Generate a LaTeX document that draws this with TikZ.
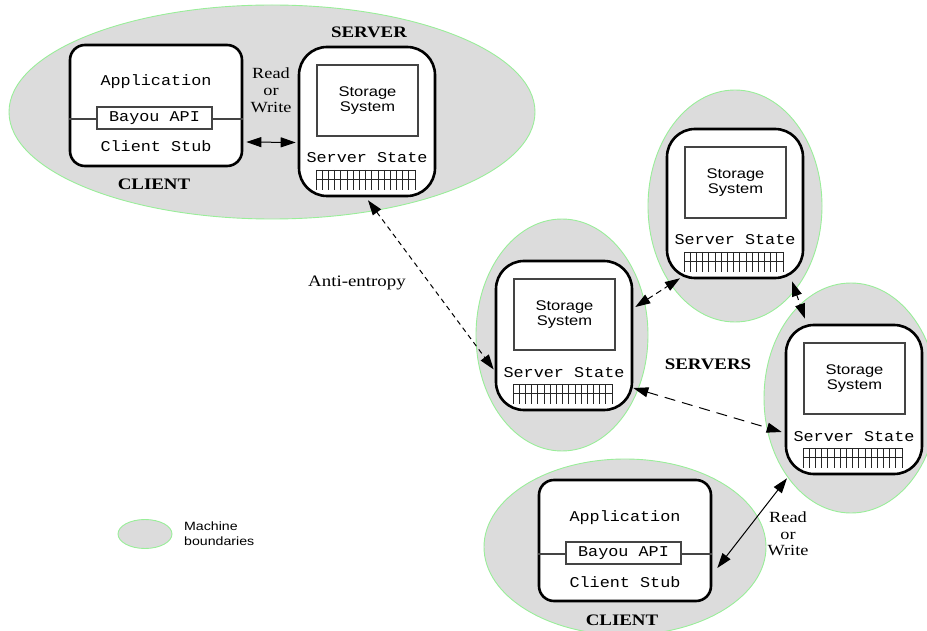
\documentclass[tikz,border=0pt]{standalone}
\usepackage{fontspec}
\setmainfont{Liberation Serif}[FakeStretch=1.18]
\newfontfamily\monofnt{Liberation Mono}[FakeStretch=1.12]
\newfontfamily\sansfnt{Liberation Sans}[FakeStretch=1.18]
\usetikzlibrary{shapes.geometric,arrows.meta,calc}
\definecolor{machfill}{HTML}{DCDCDC}
\definecolor{machline}{HTML}{99EE99}
\definecolor{thinln}{HTML}{444444}
\tikzset{
  machine/.style={ellipse, draw=machline, fill=machfill, line width=0.9pt, inner sep=0pt},
  srvbox/.style={draw=black, fill=white, line width=2.6pt, rounded corners=28pt, inner sep=0pt,
                 minimum width=136pt, minimum height=149pt},
  clbox/.style={draw=black, fill=white, line width=2.6pt, rounded corners=15pt, inner sep=0pt,
                 minimum width=172pt, minimum height=121pt},
  storebox/.style={draw=thinln, fill=white, line width=1.2pt, inner sep=0pt,
                 minimum width=101pt, minimum height=71pt, align=center,
                 font=\sansfnt\fontsize{14}{15.5}\selectfont},
  apibox/.style={draw=thinln, fill=white, line width=1.2pt, inner sep=0pt,
                 minimum width=115pt, minimum height=22pt, font=\monofnt\fontsize{15}{17}\selectfont},
  monotxt/.style={inner sep=0pt, anchor=base, font=\monofnt\fontsize{15}{17}\selectfont},
  apiline/.style={draw=thinln, line width=1.2pt},
  gridln/.style={draw=black!85, line width=0.7pt},
  biglabel/.style={inner sep=0pt, anchor=base, font=\bfseries\fontsize{16}{18}\selectfont},
  serlabel/.style={inner sep=0pt, align=center, font=\fontsize{15.5}{16.7}\selectfont},
  legtxt/.style={inner sep=0pt, align=left, font=\sansfnt\fontsize{12}{15}\selectfont},
  tip/.tip={Triangle[length=15pt,width=10pt]},
  conn/.style={line width=1pt, tip-tip},
  dconn/.style={line width=1pt, tip-tip, dash pattern=on 5pt off 4pt},
}
\newcommand\srvunit[3]{%
  \node[srvbox] (#1) at (#2+68,#3+74.5) {};
  \node[storebox] (#1s) at (#2+68.5,#3+53.5) {Storage\\System};
  \node[monotxt] (#1l) at (#2+68,#3+116) {Server State};
  \foreach \k in {0,...,16} \draw[gridln] (#2+17+\k*6.1875,#3+123) -- (#2+17+\k*6.1875,#3+143);
  \draw[gridln] (#2+17,#3+123) -- (#2+116,#3+123);
  \draw[gridln] (#2+17,#3+132.5) -- (#2+116,#3+132.5);
}
\newcommand\clunit[3]{%
  \node[clbox] (#1) at (#2+86,#3+60.5) {};
  \draw[apiline] ($(#1.west)+(0,13.5)$) -- ($(#1.east)+(0,13.5)$);
  \node[apibox] (#1a) at (#2+84.5,#3+73) {Bayou API};
  \node[monotxt] (#1p) at (#2+86,#3+41) {Application};
  \node[monotxt] (#1c) at (#2+86,#3+107) {Client Stub};
}
\begin{document}
\begin{tikzpicture}[x=1pt,y=-1pt]
\useasboundingbox (0,0) rectangle (927,631);
% machine boundaries
\node[machine, minimum width=526pt, minimum height=214pt] (m1) at (272,112) {};
\node[machine, minimum width=172pt, minimum height=232pt] (m2) at (562,335) {};
\node[machine, minimum width=174pt, minimum height=232pt] (m3) at (735,206) {};
\node[machine, minimum width=174pt, minimum height=230pt] (m4) at (851,398) {};
\node[machine, minimum width=282pt, minimum height=176pt] (m5) at (625,547) {};
\node[machine, minimum width=54pt, minimum height=29pt] (leg) at (145,534) {};
\node[legtxt, anchor=north west] (legt) at (184,522) {Machine\\boundaries};
% units
\clunit{cl1}{70}{45}
\clunit{cl2}{539}{480}
\srvunit{srv1}{299}{47}
\srvunit{srv2}{496}{261}
\srvunit{srv3}{667}{129}
\srvunit{srv4}{786}{325}
% labels
\node[biglabel] (lserver) at (369,37.3) {SERVER};
\node[biglabel] (lclient1) at (154,190) {CLIENT};
\node[biglabel] (lservers) at (708,369) {SERVERS};
\node[biglabel] (lclient2) at (622,625) {CLIENT};
\node[serlabel, anchor=north] (rw1) at (271,67.7) {Read\\or\\Write};
\node[serlabel, anchor=north] (rw2) at (788,511.4) {Read\\or\\Write};
\node[inner sep=0pt, anchor=base, font=\fontsize{16}{18}\selectfont] (anti) at (357,287) {Anti-entropy};
% connectors
\draw[conn] ($(cl1.east)+(3,36.5)$) -- ($(srv1.west)+(-2,21)$);
\draw[dconn] ($(srv1.south)+(1,3)$) -- ($(srv2.west)+(-1,34)$);
\draw[dconn, dash pattern=on 6pt off 4pt] ($(srv2.east)+(2,-28.5)$) -- ($(srv3.south)+(-55,-1)$);
\draw[dconn] ($(srv3.south)+(57,2)$) -- ($(srv4.north)+(-49,-5)$);
\draw[dconn, dash pattern=on 11pt off 7pt] ($(srv2.east)+(0,52.5)$) -- ($(srv4.west)+(-3,32.5)$);
\draw[conn] ($(cl2.east)+(5,27.5)$) -- ($(srv4.south)+(-67,3)$);
\end{tikzpicture}
\end{document}
